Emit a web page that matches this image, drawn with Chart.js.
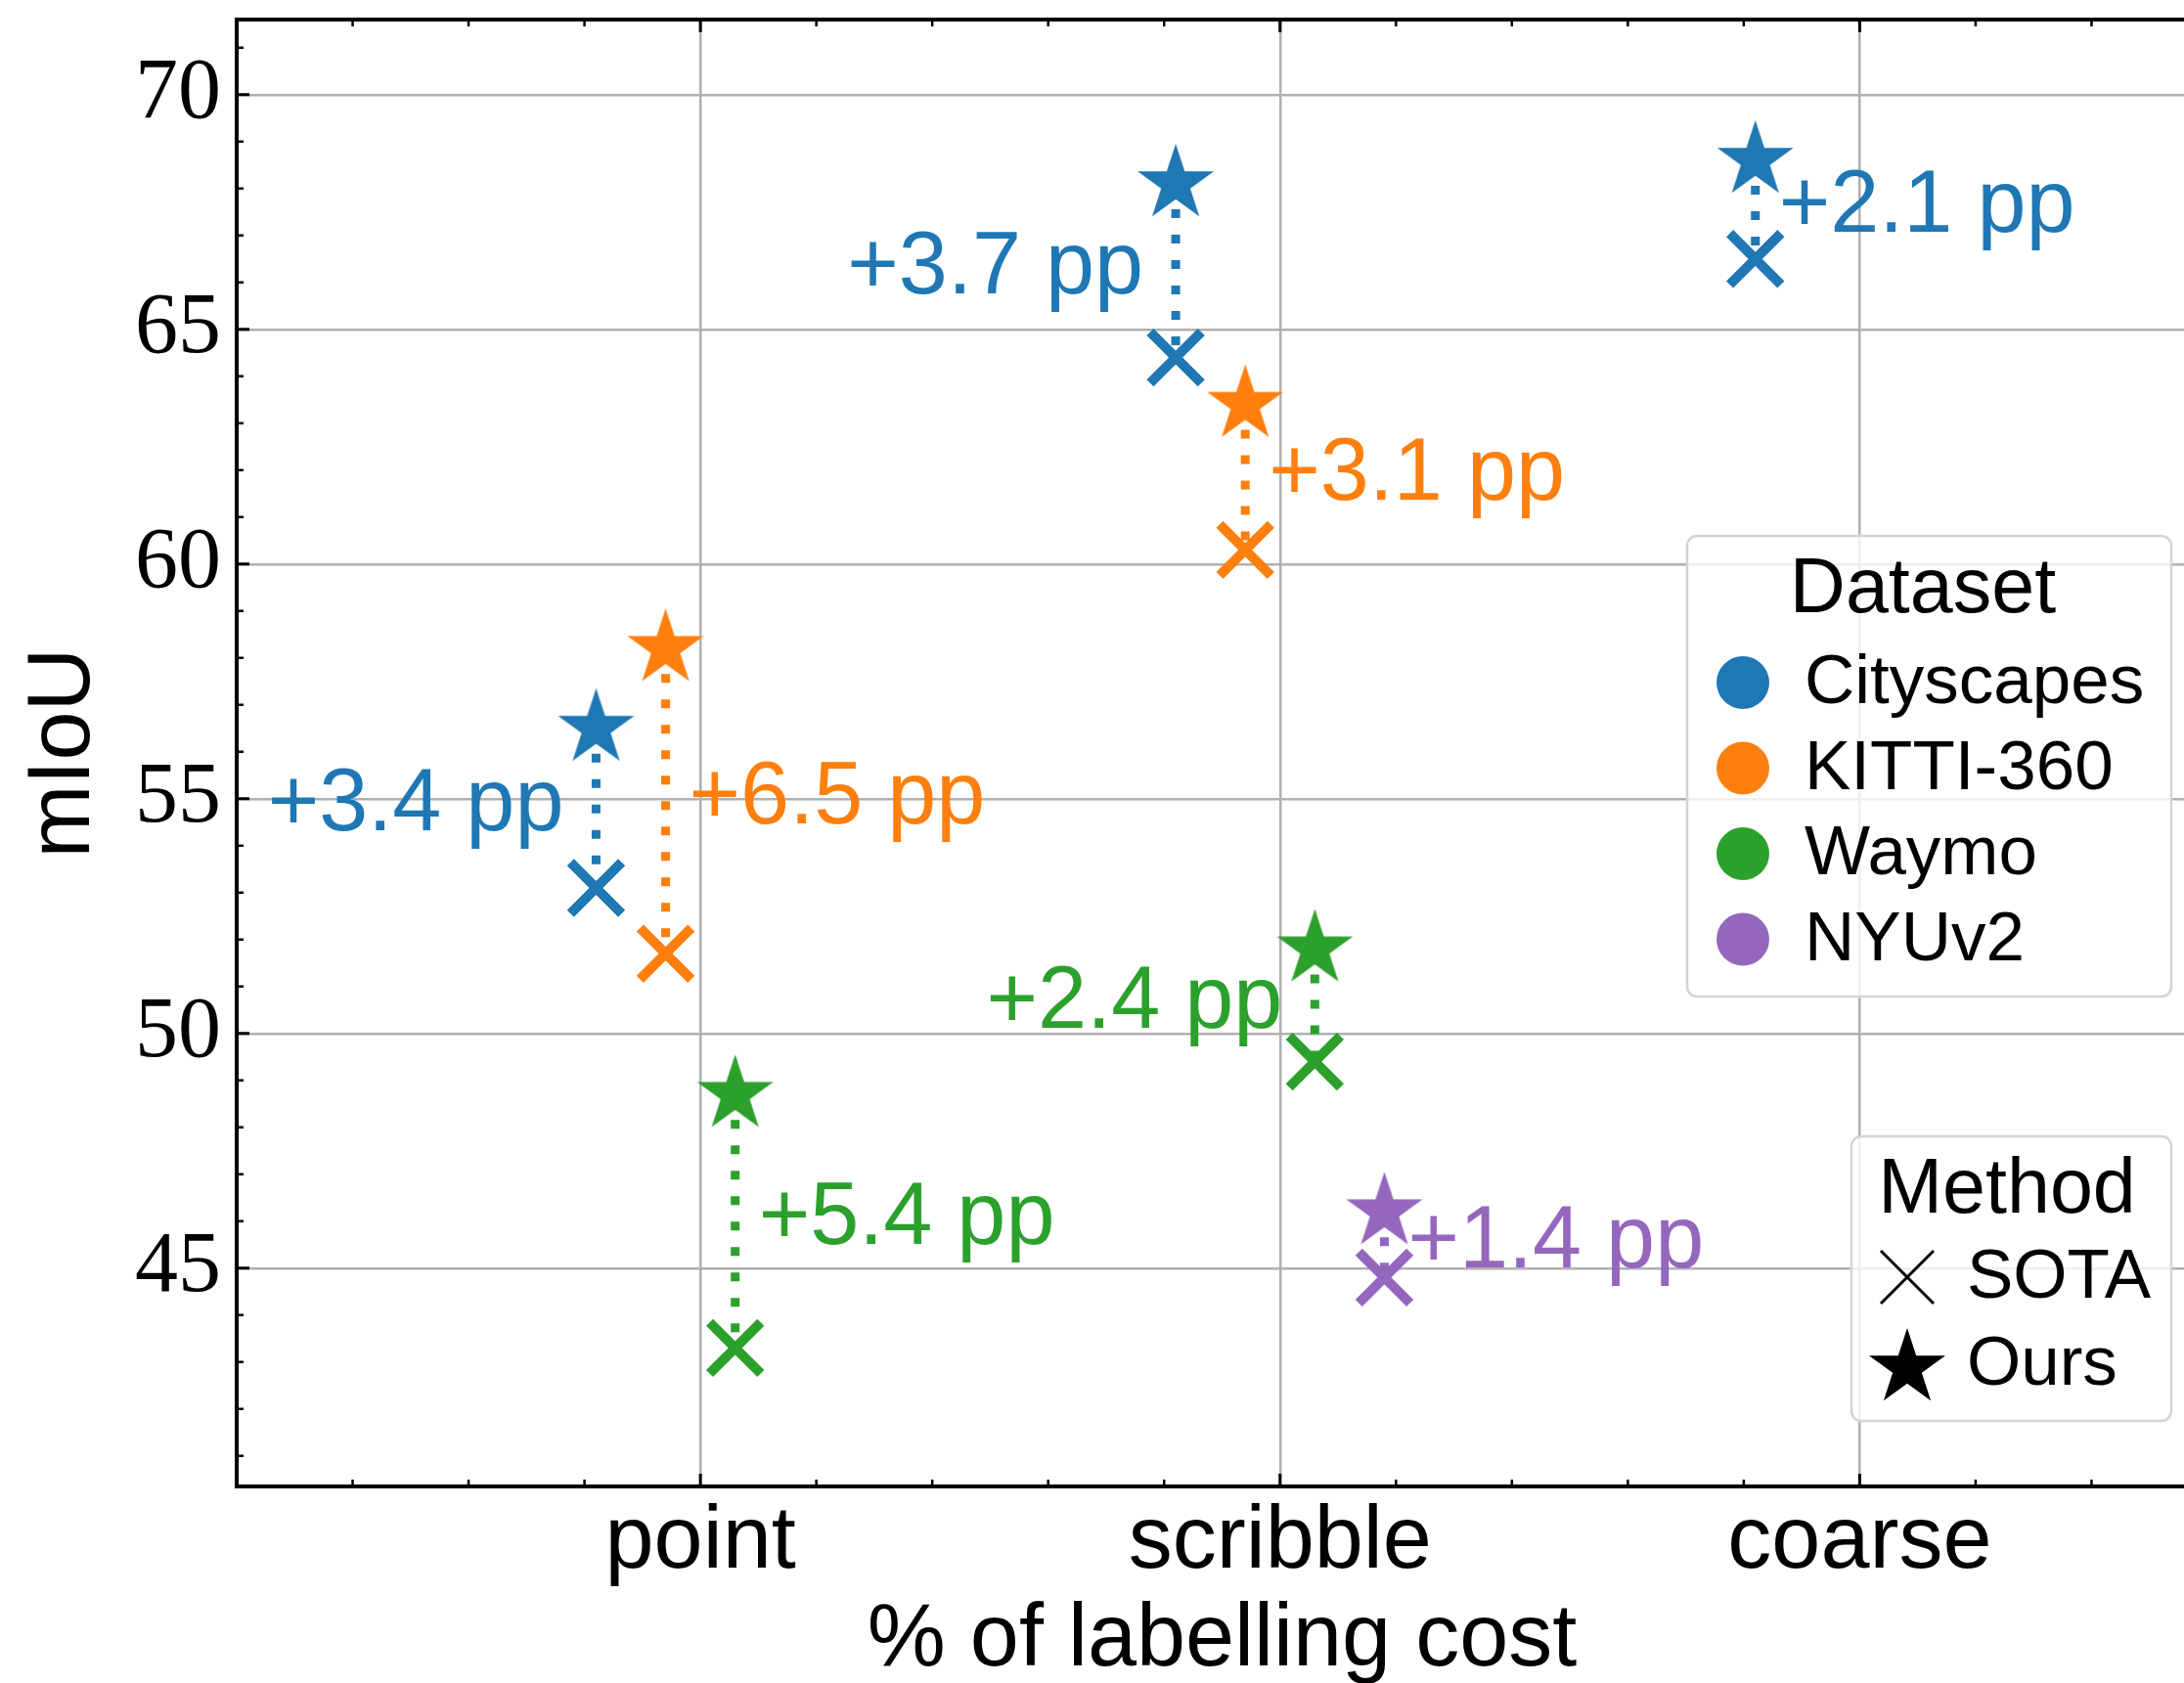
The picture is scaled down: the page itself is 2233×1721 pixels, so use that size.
<!DOCTYPE html>
<html>
<head>
<meta charset="utf-8">
<title>mIoU vs labelling cost</title>
<script src="https://cdn.jsdelivr.net/npm/chart.js@4.4.0/dist/chart.umd.min.js"></script>
<style>
    html, body { margin: 0; padding: 0; background: #fff; overflow: hidden; }
    #wrap { width: 2270px; height: 1721px; }
</style>
</head>
<body>
<div id="wrap"><canvas id="chart" width="2270" height="1721"></canvas></div>
<script>
// Data

const categories = ['point', 'scribble', 'coarse'];
const datasetNames = ['Cityscapes', 'KITTI-360', 'Waymo', 'NYUv2'];
const methodNames = ['SOTA', 'Ours'];
const yTicks = [45, 50, 55, 60, 65, 70];

// mIoU per category (point, scribble, coarse), null = no result
const sotaCityscapes = [53.1, 64.4, 66.5];
const oursCityscapes = [56.5, 68.1, 68.6];
const sotaKitti = [51.7, 60.3, null];
const oursKitti = [58.2, 63.4, null];
const sotaWaymo = [43.3, 49.4, null];
const oursWaymo = [48.7, 51.8, null];
const sotaNyu = [null, 44.8, null];
const oursNyu = [null, 46.2, null];

// Look and layout

const colors = ['#1f77b4', '#ff7f0e', '#2ca02c', '#9467bd'];
const groupOffsets = [-0.18, -0.06, 0.06, 0.18];
// which side of the pair the gain label sits on
const labelSides = [
    ['left', 'left', 'right'],
    ['right', 'right', null],
    ['right', 'left', null],
    [null, 'right', null]
];

const series = [
    { sota: sotaCityscapes, ours: oursCityscapes },
    { sota: sotaKitti, ours: oursKitti },
    { sota: sotaWaymo, ours: oursWaymo },
    { sota: sotaNyu, ours: oursNyu }
];

const SANS = '"Liberation Sans", Arial, sans-serif';
const SERIF = '"Liberation Serif", "Times New Roman", serif';

// star path like matplotlib's '*' marker
function starPath(ctx, cx, cy, r) {
    ctx.beginPath();
    for (let k = 0; k < 10; k++) {
        const rad = k % 2 === 0 ? r : r * 0.381966;
        const a = -Math.PI / 2 + k * Math.PI / 5;
        const px = cx + rad * Math.cos(a);
        const py = cy + rad * Math.sin(a);
        if (k === 0) ctx.moveTo(px, py); else ctx.lineTo(px, py);
    }
    ctx.closePath();
}

function makeStar(color, r) {
    const c = document.createElement('canvas');
    const size = Math.ceil(2 * r + 6);
    c.width = size;
    c.height = size;
    const g = c.getContext('2d');
    starPath(g, size / 2, size / 2, r);
    g.fillStyle = color;
    g.fill();
    return c;
}

function crossPath(ctx, cx, cy, half) {
    ctx.beginPath();
    ctx.moveTo(cx - half, cy - half);
    ctx.lineTo(cx + half, cy + half);
    ctx.moveTo(cx - half, cy + half);
    ctx.lineTo(cx + half, cy - half);
}

const starImages = colors.map(c => makeStar(c, 41));

function buildDatasets() {
    const out = [];
    series.forEach((s, i) => {
        const color = colors[i];
        const oursPts = [];
        const sotaPts = [];
        categories.forEach((cat, j) => {
            if (s.ours[j] == null) {
                return;
            }
            const xv = j + 1 + groupOffsets[i];
            oursPts.push({ x: xv, y: s.ours[j] });
            sotaPts.push({ x: xv, y: s.sota[j] });
            // dotted link between the two methods
            out.push({
                data: [{ x: xv, y: s.ours[j] }, { x: xv, y: s.sota[j] }],
                showLine: true,
                borderColor: color,
                borderWidth: 9,
                borderDash: [9, 17],
                borderCapStyle: 'butt',
                pointRadius: 0,
                order: 3
            });
        });
        out.push({
            label: datasetNames[i] + ' ' + methodNames[0],
            data: sotaPts,
            pointStyle: 'crossRot',
            pointRadius: 37,
            pointBorderWidth: 10,
            pointBorderColor: color,
            pointBackgroundColor: color,
            showLine: false,
            order: 2
        });
        out.push({
            label: datasetNames[i] + ' ' + methodNames[1],
            data: oursPts,
            pointStyle: starImages[i],
            pointRadius: 40,
            showLine: false,
            order: 1
        });
    });
    return out;
}

// inward ticks and top spine, matplotlib style
const framePlugin = {
    id: 'frame',
    afterDatasetsDraw(chart) {
        const { ctx, chartArea: a, scales: { x, y } } = chart;
        ctx.save();
        ctx.strokeStyle = '#000';
        ctx.lineCap = 'butt';

        ctx.lineWidth = 4;
        ctx.beginPath();
        ctx.moveTo(a.left - 2, a.top);
        ctx.lineTo(a.right + 2, a.top);
        ctx.stroke();

        function tickX(v, len, w) {
            const px = x.getPixelForValue(v);
            ctx.lineWidth = w;
            ctx.beginPath();
            ctx.moveTo(px, a.bottom);
            ctx.lineTo(px, a.bottom - len);
            ctx.moveTo(px, a.top);
            ctx.lineTo(px, a.top + len);
            ctx.stroke();
        }
        function tickY(v, len, w) {
            const py = y.getPixelForValue(v);
            ctx.lineWidth = w;
            ctx.beginPath();
            ctx.moveTo(a.left, py);
            ctx.lineTo(a.left + len, py);
            ctx.moveTo(a.right, py);
            ctx.lineTo(a.right - len, py);
            ctx.stroke();
        }

        for (let k = 2; k <= 17; k++) {
            if (k % 5 === 0) continue;
            tickX(k / 5, 7, 2.5);
        }
        for (let j = 0; j < categories.length; j++) {
            tickX(j + 1, 13, 3);
        }
        for (let v = 41; v <= 71; v++) {
            if (v % 5 === 0) continue;
            tickY(v, 7, 2.5);
        }
        yTicks.forEach(v => tickY(v, 13, 3));
        ctx.restore();
    }
};

const gainLabelPlugin = {
    id: 'gainLabels',
    afterDatasetsDraw(chart) {
        const { ctx, scales: { x, y } } = chart;
        ctx.save();
        ctx.font = '90px ' + SANS;
        ctx.textBaseline = 'alphabetic';
        series.forEach((s, i) => {
            categories.forEach((cat, j) => {
                if (s.ours[j] == null) {
                    return;
                }
                const gain = s.ours[j] - s.sota[j];
                const text = '+' + gain.toFixed(1) + ' pp';
                const px = x.getPixelForValue(j + 1 + groupOffsets[i]);
                const mid = y.getPixelForValue((s.ours[j] + s.sota[j]) / 2);
                ctx.fillStyle = colors[i];
                if (labelSides[i][j] === 'left') {
                    ctx.textAlign = 'right';
                    ctx.fillText(text, px - 33, mid + 23);
                } else {
                    ctx.textAlign = 'left';
                    ctx.fillText(text, px + 24, mid + 23);
                }
            });
        });
        ctx.restore();
    }
};

function legendBox(ctx, bx, by, bw, bh) {
    const r = 10;
    ctx.beginPath();
    ctx.moveTo(bx + r, by);
    ctx.arcTo(bx + bw, by, bx + bw, by + bh, r);
    ctx.arcTo(bx + bw, by + bh, bx, by + bh, r);
    ctx.arcTo(bx, by + bh, bx, by, r);
    ctx.arcTo(bx, by, bx + bw, by, r);
    ctx.closePath();
    ctx.fillStyle = 'rgba(255,255,255,0.8)';
    ctx.fill();
    ctx.lineWidth = 2.5;
    ctx.strokeStyle = '#d4d4d4';
    ctx.stroke();
}

const legendPlugin = {
    id: 'twoLegends',
    afterDraw(chart) {
        const ctx = chart.ctx;
        ctx.save();

        // Dataset legend
        legendBox(ctx, 1725, 548, 495, 471);
        ctx.fillStyle = '#000';
        ctx.textAlign = 'center';
        ctx.textBaseline = 'alphabetic';
        ctx.font = '79px ' + SANS;
        ctx.fillText('Dataset', 1966, 626);
        ctx.font = '71px ' + SANS;
        ctx.textAlign = 'left';
        datasetNames.forEach((name, i) => {
            const base = 719 + i * 87.5;
            ctx.beginPath();
            ctx.arc(1782, base - 21, 27, 0, Math.PI * 2);
            ctx.fillStyle = colors[i];
            ctx.fill();
            ctx.fillStyle = '#000';
            ctx.fillText(name, 1845, base);
        });

        // Method legend
        legendBox(ctx, 1893, 1162, 327, 291);
        ctx.fillStyle = '#000';
        ctx.textAlign = 'center';
        ctx.font = '79px ' + SANS;
        ctx.fillText('Method', 2052, 1240);
        ctx.font = '71px ' + SANS;
        ctx.textAlign = 'left';
        ctx.strokeStyle = '#000';
        ctx.lineWidth = 3;
        crossPath(ctx, 1950, 1306, 27);
        ctx.stroke();
        ctx.fillText(methodNames[0], 2011, 1327);
        starPath(ctx, 1950, 1399, 41);
        ctx.fill();
        ctx.fillText(methodNames[1], 2011, 1416);

        ctx.restore();
    }
};

function createChart() {
    const ctx = document.getElementById('chart').getContext('2d');
    const config = {
        type: 'scatter',
        data: { datasets: buildDatasets() },
        options: {
            responsive: false,
            animation: false,
            events: [],
            layout: {
                autoPadding: false,
                padding: { top: 20, right: 13, left: 0, bottom: 0 }
            },
            plugins: {
                legend: { display: false },
                tooltip: { enabled: false }
            },
            scales: {
                x: {
                    type: 'linear',
                    min: 0.2,
                    max: 3.6,
                    afterBuildTicks: (scale) => {
                        scale.ticks = categories.map((c, j) => ({ value: j + 1 }));
                    },
                    afterFit: (scale) => {
                        scale.height = 201;
                        scale.paddingLeft = 0;
                        scale.paddingRight = 0;
                    },
                    ticks: {
                        autoSkip: false,
                        maxRotation: 0,
                        padding: 13,
                        color: '#000',
                        font: { family: SANS, size: 90, lineHeight: 1 },
                        callback: (v) => categories[Math.round(v) - 1]
                    },
                    grid: { color: '#b0b0b0', lineWidth: 2.5, drawTicks: false },
                    border: { display: true, color: '#000', width: 4 },
                    title: {
                        display: true,
                        text: '% of labelling cost',
                        color: '#000',
                        font: { family: SANS, size: 90, lineHeight: 1 },
                        padding: { top: 0, bottom: -2 }
                    }
                },
                y: {
                    type: 'linear',
                    min: 40.35,
                    max: 71.6,
                    afterBuildTicks: (scale) => {
                        scale.ticks = yTicks.map(v => ({ value: v }));
                    },
                    afterFit: (scale) => {
                        scale.width = 242;
                        scale.paddingTop = 0;
                        scale.paddingBottom = 0;
                    },
                    ticks: {
                        padding: 16,
                        color: '#000',
                        font: { family: SERIF, size: 88, lineHeight: 1 }
                    },
                    grid: { color: '#b0b0b0', lineWidth: 2.5, drawTicks: false },
                    border: { display: true, color: '#000', width: 4 },
                    title: {
                        display: true,
                        text: 'mIoU',
                        color: '#000',
                        font: { family: SANS, size: 90, lineHeight: 1 },
                        padding: { top: 21, bottom: 0 }
                    }
                }
            }
        },
        plugins: [framePlugin, gainLabelPlugin, legendPlugin]
    };
    return new Chart(ctx, config);
}

createChart();
</script>
</body>
</html>
